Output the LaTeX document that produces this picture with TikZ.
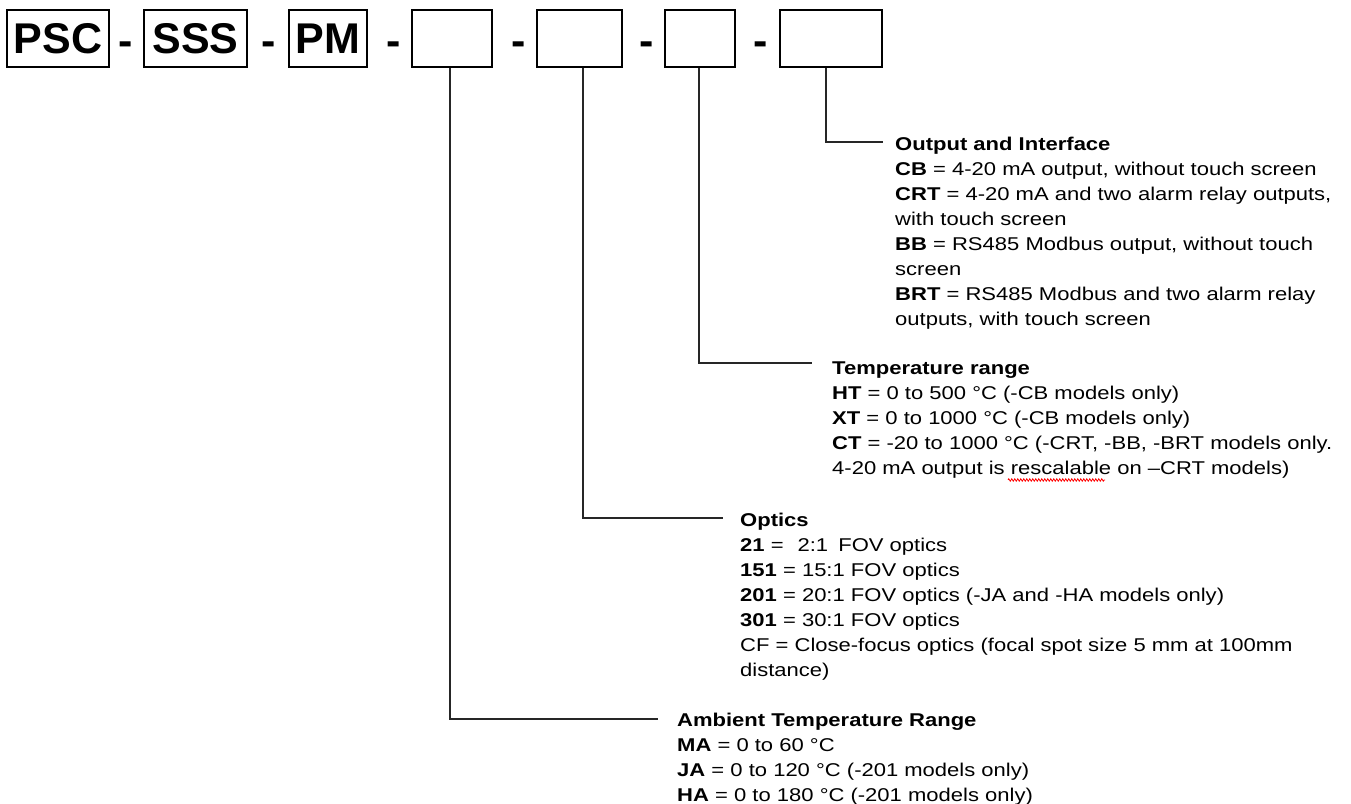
\documentclass[tikz,border=0pt]{standalone}
\usepackage{fontspec}
\setmainfont{Liberation Sans}
\newfontfamily\bodyfont[FakeStretch=1.19]{Liberation Sans}
\usetikzlibrary{decorations.pathmorphing}
\begin{document}
\begin{tikzpicture}[x=1pt,y=-1pt,
  codebox/.style={draw=black, line width=1.5pt, inner sep=0pt, minimum height=57pt, font=\fontsize{43}{43}\selectfont\bfseries},
  sepdash/.style={anchor=base, inner sep=0pt, font=\fontsize{43}{43}\selectfont\bfseries},
  lead/.style={draw=black!85, line width=1.6pt},
  block/.style={anchor=north west, inner sep=0pt, align=left, font=\bodyfont\fontsize{18.5}{25}\selectfont},
  spell/.style={draw=red, line width=0.8pt, decorate, decoration={zigzag, amplitude=1.2pt, segment length=3pt}}
]
\useasboundingbox[fill=white] (0,0) rectangle (1351,803);

% code boxes
\node[codebox, minimum width=102pt] (b1) at (58,38.5) {PSC};
\node[codebox, minimum width=103pt] (b2) at (195.5,38.5) {SSS};
\node[codebox, minimum width=78pt] (b3) at (328,38.5) {PM};
\node[codebox, minimum width=80pt] (b4) at (452,38.5) {};
\node[codebox, minimum width=85pt] (b5) at (579.5,38.5) {};
\node[codebox, minimum width=70pt] (b6) at (700,38.5) {};
\node[codebox, minimum width=102pt] (b7) at (831,38.5) {};

% separators
\node[sepdash] (d1) at (126,55) {-};
\node[sepdash] (d2) at (268.5,55) {-};
\node[sepdash] (d3) at (393.5,55) {-};
\node[sepdash] (d4) at (518.5,55) {-};
\node[sepdash] (d5) at (646.5,55) {-};
\node[sepdash] (d6) at (761,55) {-};

% description blocks
\node[block] (t7) at (895,136.5) {\rule{0pt}{14pt}\textbf{Output and Interface}\\
\textbf{CB} = 4-20 mA output, without touch screen\\
\textbf{CRT} = 4-20 mA and two alarm relay outputs,\\
with touch screen\\
\textbf{BB} = RS485 Modbus output, without touch\\
screen\\
\textbf{BRT} = RS485 Modbus and two alarm relay\\
outputs, with touch screen};

\node[block] (t6) at (832,360.5) {\rule{0pt}{14pt}\textbf{Temperature range}\\
\textbf{HT} = 0 to 500 °C (-CB models only)\\
\textbf{XT} = 0 to 1000 °C (-CB models only)\\
\textbf{CT} = -20 to 1000 °C (-CRT, -BB, -BRT models only.\\
4-20 mA output is rescalable on –CRT models)};

\node[block] (t5) at (740,512.5) {\rule{0pt}{14pt}\textbf{Optics}\\
\textbf{21} =\hspace{0.75em}2:1\hspace{0.55em}FOV optics\\
\textbf{151} = 15:1 FOV optics\\
\textbf{201} = 20:1 FOV optics (-JA and -HA models only)\\
\textbf{301} = 30:1 FOV optics\\
CF = Close-focus optics (focal spot size 5 mm at 100mm\\
distance)};

\node[block] (t4) at (677,712.5) {\rule{0pt}{14pt}\textbf{Ambient Temperature Range}\\
\textbf{MA} = 0 to 60 °C\\
\textbf{JA} = 0 to 120 °C (-201 models only)\\
\textbf{HA} = 0 to 180 °C (-201 models only)};

% connector ends
\coordinate (e7) at (883,142);
\coordinate (e6) at (812,363);
\coordinate (e5) at (723,518);
\coordinate (e4) at (658,719);

\draw[lead] ([xshift=-5pt]b7.south) |- (e7);
\draw[lead] ([xshift=-1pt]b6.south) |- (e6);
\draw[lead] ([xshift=3.5pt]b5.south) |- (e5);
\draw[lead] ([xshift=-2pt]b4.south) |- (e4);

% spell-check underline
\draw[spell] (1008,480) -- (1105,480);
\end{tikzpicture}
\end{document}
